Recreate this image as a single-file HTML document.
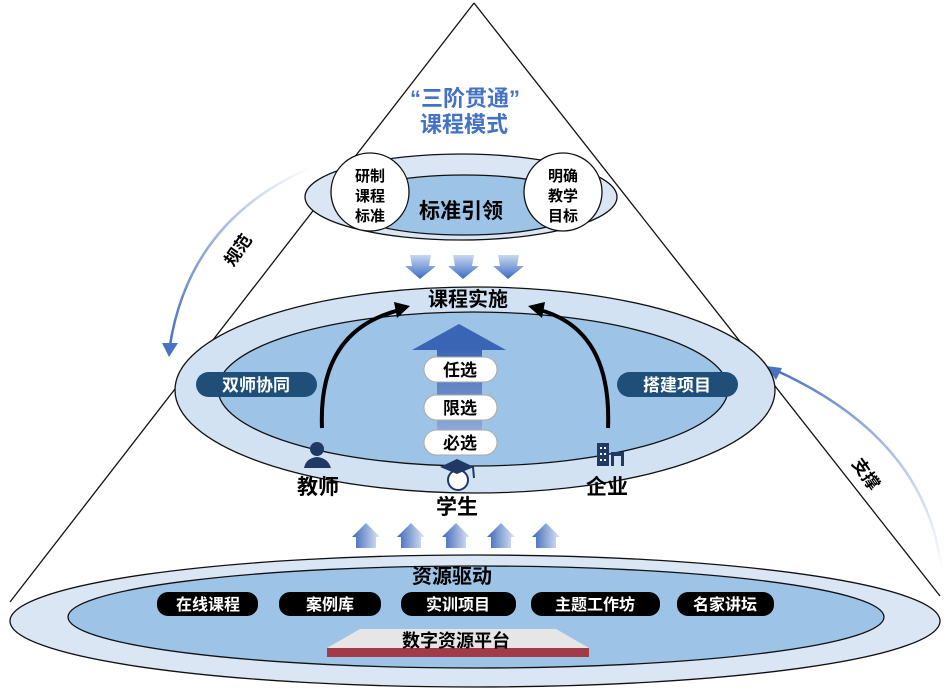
<!DOCTYPE html>
<html><head><meta charset="utf-8"><style>
body{margin:0;background:#fff}
svg{display:block}
text{font-family:"Liberation Sans","Noto Sans CJK SC",sans-serif;font-weight:bold}
</style></head><body>
<svg width="951" height="691" viewBox="0 0 951 691" xmlns="http://www.w3.org/2000/svg">
<defs>
<linearGradient id="dn" x1="0" y1="0" x2="0" y2="1"><stop offset="0" stop-color="#c9d8f0"/><stop offset="1" stop-color="#3b6cc4"/></linearGradient>
<linearGradient id="up" x1="0" y1="0" x2="1" y2="0"><stop offset="0" stop-color="#3b66b8"/><stop offset="1" stop-color="#dfe7f5"/></linearGradient>
<linearGradient id="arcL" x1="1" y1="0" x2="0" y2="1"><stop offset="0" stop-color="#fff"/><stop offset="1" stop-color="#4a72c0"/></linearGradient>
<linearGradient id="arcR" x1="0" y1="0" x2="1" y2="1"><stop offset="0" stop-color="#4a72c0"/><stop offset="1" stop-color="#fff"/></linearGradient>
<linearGradient id="shaft" x1="0" y1="0" x2="0" y2="1"><stop offset="0" stop-color="#3a64b4"/><stop offset="1" stop-color="#9fb8de"/></linearGradient>
</defs>
<line x1="474" y1="3" x2="10" y2="602" stroke="#111" stroke-width="1.3"/>
<line x1="474" y1="3" x2="940" y2="596" stroke="#111" stroke-width="1.3"/>
<path d="M310 168 Q190 220 170 345" fill="none" stroke="url(#arcL)" stroke-width="2.5"/>
<polygon points="162,343 178,343 169,357" fill="#4a72c0"/>
<text x="238" y="256" font-size="17" transform="rotate(-55 238 250)" text-anchor="middle">规范</text>
<path d="M775 370 Q930 440 942 575" fill="none" stroke="url(#arcR)" stroke-width="2.5"/>
<polygon points="766,366 782,368 776,380" fill="#4a72c0"/>
<text x="866" y="480" font-size="17" transform="rotate(55 866 474)" text-anchor="middle">支撑</text>
<text x="465" y="106" font-size="22" fill="#4472c4" text-anchor="middle">“三阶贯通”</text>
<text x="464" y="132" font-size="22" fill="#4472c4" text-anchor="middle">课程模式</text>
<ellipse cx="461" cy="197" rx="156" ry="43" fill="#dbe6f4" stroke="#111" stroke-width="1.3"/>
<ellipse cx="464" cy="205" rx="122" ry="30" fill="#9dc3e6" stroke="#111" stroke-width="1.3"/>
<circle cx="370" cy="192" r="39" fill="#fff" stroke="#111" stroke-width="1.3"/>
<circle cx="563" cy="192" r="39" fill="#fff" stroke="#111" stroke-width="1.3"/>
<text x="370" y="181" font-size="15" text-anchor="middle">研制</text>
<text x="370" y="201" font-size="15" text-anchor="middle">课程</text>
<text x="370" y="221" font-size="15" text-anchor="middle">标准</text>
<text x="563" y="181" font-size="15" text-anchor="middle">明确</text>
<text x="563" y="201" font-size="15" text-anchor="middle">教学</text>
<text x="563" y="221" font-size="15" text-anchor="middle">目标</text>
<text x="461" y="218" font-size="21" text-anchor="middle">标准引领</text>
<g fill="url(#dn)">
<polygon points="410,255 431,255 429,266 436,266 420,279 405,266 412,266"/>
<polygon points="453,255 474,255 472,266 479,266 463,279 448,266 455,266"/>
<polygon points="498,255 519,255 517,266 524,266 508,279 493,266 500,266"/>
</g>
<ellipse cx="475" cy="390" rx="300" ry="103" fill="#d2e2f3" stroke="#111" stroke-width="1.3"/>
<ellipse cx="473" cy="389" rx="255" ry="77" fill="#9dc3e6" stroke="#111" stroke-width="1.3"/>
<text x="468" y="306" font-size="20" text-anchor="middle">课程实施</text>
<path d="M322 428 Q318 330 400 310" fill="none" stroke="#000" stroke-width="4"/>
<polygon points="410,306 394,302 397,318" fill="#000"/>
<path d="M608 428 Q612 330 540 310" fill="none" stroke="#000" stroke-width="4"/>
<polygon points="528,306 545,302 542,318" fill="#000"/>
<rect x="437" y="348" width="45" height="100" fill="url(#shaft)"/>
<polygon points="412,350 459,324 506,350" fill="#3a64b4"/>
<g fill="#fff" stroke="#aaa" stroke-width="1">
<rect x="424" y="357" width="73" height="25" rx="12.5"/>
<rect x="424" y="395" width="73" height="25" rx="12.5"/>
<rect x="424" y="430" width="73" height="25" rx="12.5"/>
</g>
<text x="460" y="376" font-size="17" text-anchor="middle">任选</text>
<text x="460" y="414" font-size="17" text-anchor="middle">限选</text>
<text x="460" y="449" font-size="17" text-anchor="middle">必选</text>
<rect x="196" y="372" width="121" height="25" rx="12.5" fill="#1f4e79"/>
<text x="256" y="391" font-size="17" fill="#fff" text-anchor="middle">双师协同</text>
<rect x="617" y="372" width="121" height="25" rx="12.5" fill="#1f4e79"/>
<text x="677" y="391" font-size="17" fill="#fff" text-anchor="middle">搭建项目</text>
<g fill="#1f3864">
<circle cx="317" cy="449" r="7"/>
<path d="M304 468 Q306 458 317 457 Q328 458 331 468 Z"/>
</g>
<circle cx="458" cy="480" r="10" fill="#fff" stroke="#1f3864" stroke-width="2"/>
<polygon points="440,467 457,459 474,467 457,474" fill="#1f3864"/>
<line x1="473" y1="467" x2="474" y2="478" stroke="#1f3864" stroke-width="2"/>
<g fill="#1f3864">
<rect x="597" y="443" width="12" height="23"/>
<rect x="611" y="452" width="13" height="4"/>
<rect x="611" y="456" width="3" height="10"/>
<rect x="621" y="456" width="3" height="10"/>
</g>
<g fill="#fff"><rect x="600" y="447" width="2" height="2"/><rect x="604" y="447" width="2" height="2"/><rect x="600" y="453" width="2" height="2"/><rect x="604" y="453" width="2" height="2"/><rect x="600" y="459" width="2" height="2"/><rect x="604" y="459" width="2" height="2"/></g>
<text x="318" y="494" font-size="21" text-anchor="middle">教师</text>
<text x="457" y="514" font-size="21" text-anchor="middle">学生</text>
<text x="607" y="494" font-size="21" text-anchor="middle">企业</text>
<g fill="url(#up)">
<polygon points="356,548 356,537 352,537 366,523 380,537 376,537 376,548"/>
<polygon points="401,548 401,537 397,537 411,523 425,537 421,537 421,548"/>
<polygon points="446,548 446,537 442,537 456,523 470,537 466,537 466,548"/>
<polygon points="491,548 491,537 487,537 501,523 515,537 511,537 511,548"/>
<polygon points="536,548 536,537 532,537 546,523 560,537 556,537 556,548"/>
</g>
<ellipse cx="475" cy="621" rx="465" ry="66" fill="#dbe6f4" stroke="#111" stroke-width="1.3"/>
<ellipse cx="476" cy="617" rx="408" ry="51" fill="#9dc3e6" stroke="#111" stroke-width="1.3"/>
<text x="452" y="583" font-size="20" text-anchor="middle">资源驱动</text>
<g fill="#000">
<rect x="157" y="592" width="101" height="24" rx="11"/>
<rect x="279" y="592" width="102" height="24" rx="11"/>
<rect x="401" y="592" width="115" height="24" rx="11"/>
<rect x="531" y="592" width="129" height="24" rx="11"/>
<rect x="677" y="592" width="97" height="24" rx="11"/>
</g>
<g fill="#fff" font-size="16" text-anchor="middle">
<text x="208" y="610">在线课程</text>
<text x="330" y="610">案例库</text>
<text x="458" y="610">实训项目</text>
<text x="595" y="610">主题工作坊</text>
<text x="725" y="610">名家讲坛</text>
</g>
<polygon points="360,629 556,629 589,648 327,648" fill="#e6e6e6"/>
<rect x="327" y="648" width="262" height="9" fill="#a33a48"/>
<text x="456" y="647" font-size="18" text-anchor="middle">数字资源平台</text>
</svg>
</body></html>
